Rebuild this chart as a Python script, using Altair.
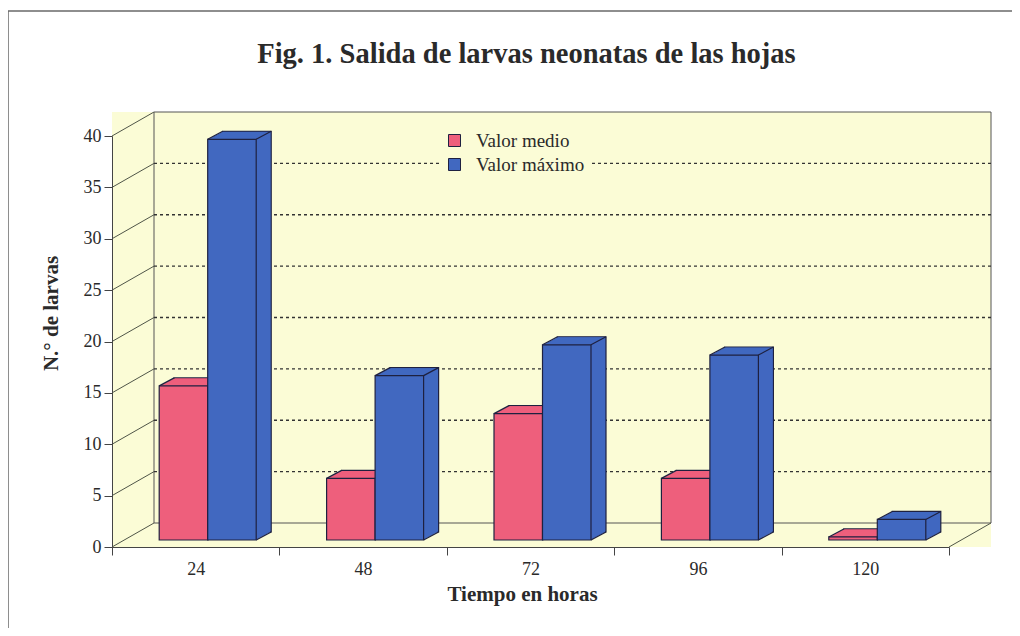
import math
import altair as alt
import pandas as pd

# ---------------- data ----------------
horas = ["24", "48", "72", "96", "120"]
valor_medio = [15, 6, 12.3, 6, 0.3]
valor_maximo = [39, 16, 19, 18, 2]
series = ["Valor medio", "Valor máximo"]
colores = ["#EE5F7C", "#4168C0"]
y_ticks = [0, 5, 10, 15, 20, 25, 30, 35, 40]
y_grid = [5, 10, 15, 20, 25, 30, 35]
titulo = "Fig. 1. Salida de larvas neonatas de las hojas"

# ---------------- geometry / style ----------------
W, H = 837, 411          # front plane of the 3-D box
DX, DY = 42, -24         # depth of the box (front plane -> back wall)
BX, BY = 12, -7          # front face of the bars relative to front plane
BDX, BDY = 15, -8        # depth of the bars
BAR_W = 48.5

WALL = "#FBFCD6"
EDGE = "#1E2140"
LINE = "#4F5548"
TXT = "#2A2A2A"
SERIF = "Liberation Serif"

bars = pd.DataFrame({
    "hora": horas + horas,
    "serie": [series[0]] * len(horas) + [series[1]] * len(horas),
    "valor": valor_medio + valor_maximo,
})
ticks_df = pd.DataFrame({"v": y_ticks})
grid_df = pd.DataFrame({"v": y_grid})
box_df = pd.DataFrame({"top": [y_ticks[-1]], "bot": [y_ticks[0]]})
title_df = pd.DataFrame({"t": [titulo]})

xs = alt.Scale(domain=horas, paddingInner=0, paddingOuter=0)
ys = alt.Scale(domain=[y_ticks[0], y_ticks[-1]], nice=False)
cs = alt.Scale(domain=series, range=colores)

x_axis = alt.Axis(tickBand="extent", labelAngle=0, tickSize=8, labelPadding=5,
                  labelFont=SERIF, labelFontSize=18, labelColor=TXT,
                  tickColor="#444", domainColor="#444", grid=False,
                  titleFont=SERIF, titleFontSize=21, titleFontWeight="bold",
                  titleColor=TXT, titlePadding=5, titleX=410, titleAlign="center", zindex=1)
y_axis = alt.Axis(values=y_ticks, tickSize=8, labelPadding=3,
                  labelFont=SERIF, labelFontSize=18, labelColor=TXT,
                  tickColor="#444", domainColor="#444", grid=False,
                  titleFont=SERIF, titleFontSize=21, titleFontWeight="bold",
                  titleColor=TXT, titlePadding=22, titleY=177, zindex=1)

XT = "Tiempo en horas"
YT = "N.° de larvas"


def X(**kw):
    return alt.X("hora:N", scale=xs, sort=horas, axis=x_axis, title=XT, **kw)


def Y(f):
    return alt.Y(f, scale=ys, axis=y_axis, title=YT)


color = alt.Color("serie:N", scale=cs, sort=series,
                  legend=alt.Legend(title=None, orient="none", legendX=328, legendY=-10,
                                    fillColor=WALL, padding=5, symbolType="square",
                                    symbolSize=144, symbolStrokeColor=EDGE,
                                    symbolStrokeWidth=1, labelFont=SERIF,
                                    labelFontSize=19, labelColor=TXT, rowPadding=4,
                                    labelOffset=12, direction="vertical", zindex=1))

layers = []

# outer frame of the figure (only top and left edges fall inside the page)
layers.append(alt.Chart(box_df).mark_rect(fillOpacity=0, stroke="#6A6A6A", strokeWidth=1.5).encode(
    x=alt.value(-104), x2=alt.value(W + 300), y=alt.value(-125), y2=alt.value(H + 300)))

# title
layers.append(alt.Chart(title_df).mark_text(font=SERIF, fontSize=28.5, fontWeight="bold",
                                            color=TXT, align="center", baseline="alphabetic").encode(
    x=alt.value(W / 2 - 4), y=alt.value(-73), text="t:N"))

# left wall and floor fills
layers.append(alt.Chart(box_df).mark_rect(fill=WALL, yOffset=DY).encode(
    x=alt.value(0), x2=alt.value(DX), y=Y("top:Q"), y2=alt.Y2("bot:Q")))
layers.append(alt.Chart(box_df).mark_rect(fill=WALL, yOffset=DY).encode(
    x=alt.value(0), x2=alt.value(W + DX), y=Y("bot:Q"), y2=alt.Y2("bot:Q")))
# back wall
layers.append(alt.Chart(box_df).mark_rect(fill=WALL, stroke="#555", strokeWidth=1,
                                          yOffset=DY, y2Offset=DY).encode(
    x=alt.value(DX), x2=alt.value(W + DX), y=Y("top:Q"), y2=alt.Y2("bot:Q")))
# dotted gridlines on back wall
layers.append(alt.Chart(grid_df).mark_rule(color="#333", strokeWidth=1.3, strokeDash=[3, 3],
                                           yOffset=DY).encode(
    x=alt.value(DX), x2=alt.value(W + DX), y=Y("v:Q")))
# left wall diagonals
layers.append(alt.Chart(ticks_df).mark_rule(color=LINE, strokeWidth=1, y2Offset=DY).encode(
    x=alt.value(0), x2=alt.value(DX), y=Y("v:Q"), y2=alt.Y2("v:Q")))
# floor right diagonal
layers.append(alt.Chart(box_df).mark_rule(color=LINE, strokeWidth=1, y2Offset=DY).encode(
    x=alt.value(W), x2=alt.value(W + DX), y=Y("bot:Q"), y2=alt.Y2("bot:Q")))


def bar_layer(depth_dx, depth_dy, stroked):
    out = []
    for i, s in enumerate(series):
        kw = dict(width=BAR_W, xOffset=BX + (i - 0.5) * BAR_W + depth_dx,
                  yOffset=BY + depth_dy, y2Offset=BY + depth_dy, opacity=1)
        if stroked:
            kw.update(stroke=EDGE, strokeWidth=1.2)
        else:
            kw.update(strokeWidth=0)
        out.append(alt.Chart(bars).transform_filter(alt.datum.serie == s)
                   .mark_bar(**kw).encode(x=X(), y=Y("valor:Q"), color=color))
    return out


# bar back faces, extrusion
layers += bar_layer(BDX, BDY, True)
for k in range(BDX - 1, 0, -1):
    layers += bar_layer(k, BDY * k / BDX, False)

# diagonal edges of the bars
ang = math.degrees(math.atan2(BDY, BDX)) % 180
L2 = BDX ** 2 + BDY ** 2


def diag(serie, xoff, field):
    return (alt.Chart(bars)
            .transform_filter(alt.datum.serie == serie)
            .transform_calculate(cero="0")
            .mark_point(shape="stroke", angle=ang, size=L2, stroke=EDGE, strokeWidth=1.2,
                        opacity=1, filled=False, xOffset=xoff, yOffset=BY + BDY / 2)
            .encode(x=X(bandPosition=0.5), y=Y(field)))


half = BDX / 2
layers.append(diag(series[0], BX - BAR_W + half, "valor:Q"))
layers.append(diag(series[0], BX + half, "valor:Q"))
layers.append(diag(series[0], BX + half, "cero:Q"))
layers.append(diag(series[1], BX + half, "valor:Q"))
layers.append(diag(series[1], BX + BAR_W + half, "valor:Q"))
layers.append(diag(series[1], BX + BAR_W + half, "cero:Q"))

# bar front faces
layers += bar_layer(0, 0, True)

chart = alt.layer(*layers).properties(
    width=W, height=H,
    autosize="none",
    padding={"left": 104, "top": 128, "right": 63, "bottom": 81},
).configure_view(stroke=None).configure_axis(labelFont=SERIF, titleFont=SERIF
).configure_legend(labelFont=SERIF)

chart.save("out.html", embed_options={"renderer": "svg", "actions": False})
